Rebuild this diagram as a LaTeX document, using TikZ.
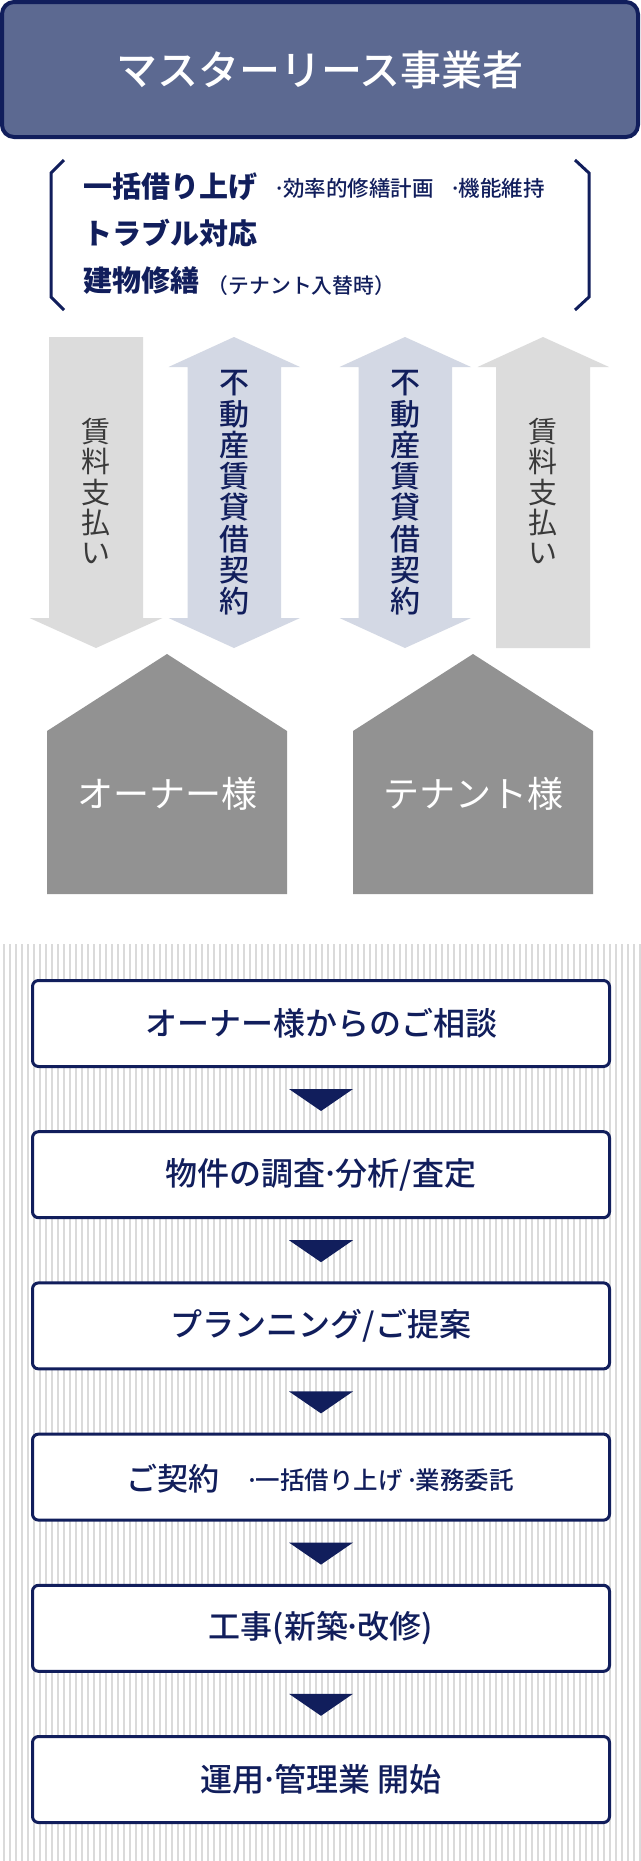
\documentclass[tikz,border=0pt]{standalone}
\usepackage{fontspec}
\newfontfamily\jp{Noto Sans CJK JP}
\IfFontExistsTF{Noto Sans CJK JP Medium}{\newfontfamily\jpm{Noto Sans CJK JP Medium}}{\newfontfamily\jpm{Noto Sans CJK JP}[FakeBold=1.3]}
\usetikzlibrary{calc}
\definecolor{navy}{HTML}{111E5C}
\definecolor{titlefill}{HTML}{5C6991}
\definecolor{bluegray}{HTML}{D3D8E4}
\definecolor{lightgray}{HTML}{DCDCDC}
\definecolor{housegray}{HTML}{929292}
\definecolor{graytext}{HTML}{3A3A3A}
\definecolor{stripegray}{HTML}{DADADA}
\newcommand\fsz[2]{\fontsize{#1}{#2}\selectfont}
\newcommand\dt{\makebox[0.3em][c]{·}}
\begin{document}
\begin{tikzpicture}[x=1pt,y=-1pt,
  titlebox/.style={draw=navy, line width=4pt, fill=titlefill, rounded corners=12pt,
    minimum width=636pt, minimum height=135pt, inner sep=0pt, text=white, font=\jpm\fsz{41}{49}},
  bigtxt/.style={inner sep=0pt, text=navy, font=\jp\bfseries\fsz{29}{35}},
  smalltxt/.style={inner sep=0pt, text=navy, font=\jpm\fsz{21.5}{26}},
  brk/.style={draw=navy, line width=3pt},
  vgray/.style={inner sep=0pt, align=center, text=graytext, font=\jp\fsz{29}{30.4}},
  vnavy/.style={inner sep=0pt, align=center, text=navy, font=\jpm\fsz{30}{31.25}},
  housetxt/.style={inner sep=0pt, text=white, font=\jp\fsz{36}{42}},
  flowbox/.style={draw=navy, line width=3pt, fill=white, rounded corners=6pt,
    minimum width=577pt, minimum height=86pt, inner sep=0pt, text=navy, font=\jpm\fsz{32}{38}},
  flowbig/.style={inner sep=0pt, text=navy, font=\jpm\fsz{31}{37}},
  flowsmall/.style={inner sep=0pt, text=navy, font=\jpm\fsz{24.5}{29}},
  tri/.style={fill=navy}
]
\useasboundingbox (0,0) rectangle (640,1861);
\fill[white] (0,0) rectangle (640,1861);

% title
\node[titlebox] (title) at (320,69.5) {マスターリース事業者};

% brackets
\draw[brk] (64,160) -- (51,173) -- (51,297) -- (64,310);
\draw[brk] (575,160) -- (589,173) -- (589,297) -- (575,310);

% bracket texts
\node[bigtxt, anchor=base west] (l1) at (83,197) {一括借り上げ};
\node[smalltxt, anchor=base east] (l1a) at (434,196) {\dt 効率的修繕計画};
\node[smalltxt, anchor=base east] (l1b) at (545,196) {\dt 機能維持};
\node[bigtxt, anchor=base west] (l2) at (83,244) {トラブル対応};
\node[bigtxt, anchor=base west] (l3) at (83,291.5) {建物修繕};
\node[smalltxt, anchor=base, font=\jpm\fsz{20.8}{25}] (l3a) at (301.5,293) {（テナント入替時）};

% arrows
\fill[lightgray] (49,337) -- (143,337) -- (143,618) -- (162.5,618) -- (96,648) -- (29.5,618) -- (49,618) -- cycle;
\fill[bluegray] (234,337) -- (300,367) -- (281,367) -- (281,618) -- (300,618) -- (234,648) -- (168.5,618) -- (187.5,618) -- (187.5,367) -- (168.5,367) -- cycle;
\fill[bluegray] (405,337) -- (471,367) -- (452,367) -- (452,618) -- (471,618) -- (405,648) -- (339.5,618) -- (358.5,618) -- (358.5,367) -- (339.5,367) -- cycle;
\fill[lightgray] (543,337) -- (609,367) -- (590,367) -- (590,648) -- (496,648) -- (496,367) -- (477.5,367) -- cycle;

\node[vgray] (a1) at (96,491) {賃\\料\\支\\払\\い};
\node[vnavy] (a2) at (234,493) {不\\動\\産\\賃\\貸\\借\\契\\約};
\node[vnavy] (a3) at (405,493) {不\\動\\産\\賃\\貸\\借\\契\\約};
\node[vgray] (a4) at (543,491) {賃\\料\\支\\払\\い};

% houses
\fill[housegray] (47,894) -- (47,731) -- (167,654) -- (287,731) -- (287,894) -- cycle;
\fill[housegray] (353,894) -- (353,731) -- (473,654) -- (593,731) -- (593,894) -- cycle;
\node[housetxt] (owner) at (167,794) {オーナー様};
\node[housetxt] (tenant) at (473,794) {テナント様};

% stripes
\foreach \k in {0,...,106} {
  \fill[stripegray] ({2.7+6*\k},944) rectangle ({4.7+6*\k},1861);
}

% flow boxes
\node[flowbox] (b1) at (321,1023.5) {オーナー様からのご相談};
\node[flowbox] (b2) at (321,1174.7) {物件の調査\dt 分析/査定};
\node[flowbox] (b3) at (321,1325.9) {プランニング/ご提案};
\node[flowbox] (b4) at (321,1477.1) {};
\node[flowbox] (b5) at (321,1628.3) {工事(新築\dt 改修)};
\node[flowbox] (b6) at (321,1779.5) {運用\dt 管理業 開始};

\node[flowbig, anchor=base west] (b4a) at (126,1490) {ご契約};
\node[flowsmall, anchor=base east] (b4b) at (514,1489) {\dt 一括借り上げ \dt 業務委託};

% triangles
\foreach \a/\b in {b1/b2,b2/b3,b3/b4,b4/b5,b5/b6} {
  \fill[tri] ($(\a.south)+(-32,21)$) -- ($(\a.south)+(32,21)$) -- ($(\a.south)+(0,43)$) -- cycle;
}
\end{tikzpicture}
\end{document}
